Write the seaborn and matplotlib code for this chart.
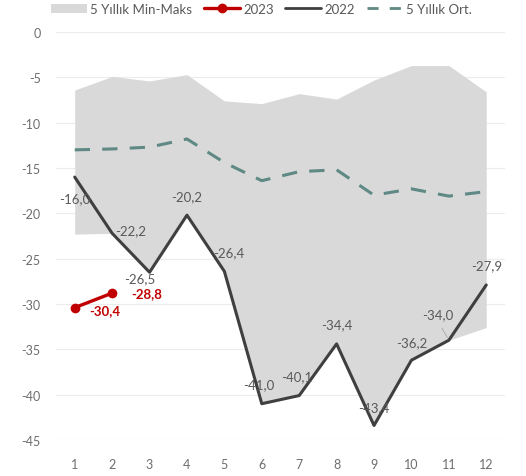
import matplotlib
matplotlib.use("Agg")
import matplotlib.pyplot as plt
import seaborn as sns
import pandas as pd
from matplotlib.lines import Line2D
from matplotlib.patches import Patch

months = list(range(1, 13))
band_max = [-6.4, -4.9, -5.4, -4.7, -7.6, -7.9, -6.8, -7.4, -5.3, -3.7, -3.7, -6.6]
band_min = [-22.3, -22.2, -26.5, -20.2, -26.4, -41.0, -40.1, -34.4, -43.4, -36.2, -34.0, -32.6]
avg5 = [-13.0, -12.9, -12.7, -11.8, -14.4, -16.4, -15.4, -15.2, -18.0, -17.3, -18.1, -17.6]
y2022 = [-16.0, -22.2, -26.5, -20.2, -26.4, -41.0, -40.1, -34.4, -43.4, -36.2, -34.0, -27.9]
months2023 = [1, 2]
y2023 = [-30.4, -28.8]

# label offsets (points) for 2022 values
off2022 = [(0, -15), (13, 2), (-7, -4), (0, 14), (3, 14), (-2, 14),
           (-2, 14), (0, 14), (0, 13), (0, 13), (-8, 19), (0, 14)]
off2023 = [(22, -2), (25, 0)]

sns.set_theme(style="white")
plt.rcParams["font.family"] = ["Lato", "DejaVu Sans"]
plt.rcParams["axes.unicode_minus"] = False

grey_txt = "#595959"
tick_txt = "#6e6e6e"
red = "#c00000"
dark = "#3f3f3f"
teal = "#5e8984"
band_col = "#d9d9d9"

fig = plt.figure(figsize=(5.26, 4.77), dpi=100)
ax = fig.add_axes([0.1065, 0.0755, 0.8535, 0.8553])

ax.fill_between(months, band_min, band_max, color=band_col, linewidth=0, zorder=1)

df22 = pd.DataFrame({"ay": months, "v": y2022})
dfavg = pd.DataFrame({"ay": months, "v": avg5})
df23 = pd.DataFrame({"ay": months2023, "v": y2023})

sns.lineplot(data=dfavg, x="ay", y="v", ax=ax, color=teal, linewidth=2.2, zorder=2)
ax.lines[-1].set_dashes([5, 4])
sns.lineplot(data=df22, x="ay", y="v", ax=ax, color=dark, linewidth=2.2, zorder=3)
sns.lineplot(data=df23, x="ay", y="v", ax=ax, color=red, linewidth=2.4,
             marker="o", markersize=7, markeredgewidth=0, zorder=4)

for m, v, (dx, dy) in zip(months, y2022, off2022):
    ax.annotate(f"{v:.1f}".replace(".", ","), (m, v), xytext=(dx, dy),
                textcoords="offset points", ha="center", va="center",
                fontsize=9.5, color=grey_txt, zorder=5)
ax.annotate("", xy=(11, -34.0), xytext=(10.78, -32.4),
            arrowprops=dict(arrowstyle="-", color="#a6a6a6", lw=0.6))
for m, v, (dx, dy) in zip(months2023, y2023, off2023):
    ax.annotate(f"{v:.1f}".replace(".", ","), (m, v), xytext=(dx, dy),
                textcoords="offset points", ha="center", va="center",
                fontsize=9.5, color=red, fontweight="bold", zorder=5)

ax.set_xlim(0.5, 12.5)
ax.set_ylim(-45, 0)
ax.set_xticks(months)
ax.set_yticks(range(-45, 1, 5))
ax.set_xlabel("")
ax.set_ylabel("")
ax.tick_params(axis="both", length=0, labelsize=9, colors=tick_txt)
ax.tick_params(axis="y", pad=11)
ax.tick_params(axis="x", pad=13)
ax.grid(axis="y", color="#ececec", linewidth=0.8)
ax.set_axisbelow(True)
for s in ax.spines.values():
    s.set_visible(False)

handles = [
    Patch(facecolor=band_col, edgecolor="none", label="5 Yıllık Min-Maks"),
    Line2D([], [], color=red, linewidth=2.4, marker="o", markersize=6, label="2023"),
    Line2D([], [], color=dark, linewidth=2.0, label="2022"),
    Line2D([], [], color=teal, linewidth=2.0, dashes=[4, 4], label="5 Yıllık Ort."),
]
leg = fig.legend(handles=handles, loc="upper center", bbox_to_anchor=(0.497, 1.017),
                 ncol=4, frameon=False, fontsize=9.5, handlelength=2.7,
                 handletextpad=0.25, columnspacing=0.9)
for t in leg.get_texts():
    t.set_color(grey_txt)

fig.savefig("out.png", dpi=100)
